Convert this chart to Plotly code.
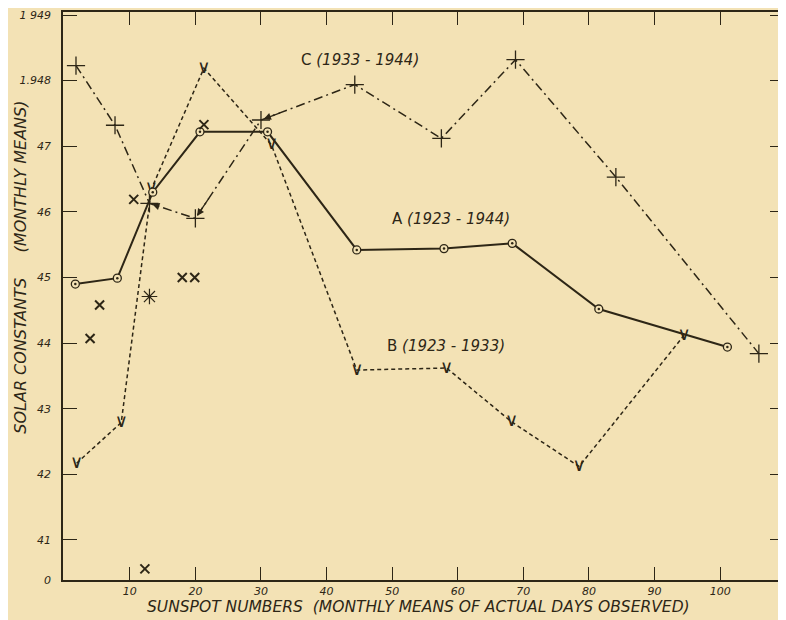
import plotly.graph_objects as go

# ---- data ----
a_x = [1.7, 8.1, 13.5, 20.7, 31.0, 44.6, 57.9, 68.3, 81.5, 101.1]
a_y = [44.90, 44.99, 46.30, 47.22, 47.22, 45.42, 45.44, 45.52, 44.52, 43.94]

b_x = [1.9, 8.7, 13.3, 21.3, 31.6, 44.6, 58.3, 68.2, 78.5, 94.5]
b_y = [42.17, 42.79, 46.35, 48.19, 47.02, 43.59, 43.62, 42.80, 42.12, 44.12]

c_x = [1.8, 7.75, 13.0, 20.0, 30.0, 44.3, 57.5, 68.8, 84.1, 105.9]
c_y = [48.23, 47.32, 46.13, 45.90, 47.40, 47.94, 47.12, 48.32, 46.53, 43.84]

x_pts_x = [5.4, 3.95, 10.6, 18.0, 19.9, 21.3, 12.3]
x_pts_y = [44.58, 44.07, 46.19, 45.00, 45.00, 47.33, 40.56]

sun_x = [13.0]
sun_y = [44.71]

x_ticks = [10, 20, 30, 40, 50, 60, 70, 80, 90, 100]
x_ticktext = ["10", "20", "30", "40", "50", "60", "70", "80", "90", "100"]
y_ticks = [40.39, 41, 42, 43, 44, 45, 46, 47, 48, 49]
y_ticktext = ["0", "41", "42", "43", "44", "45", "46", "47", "1.948", "1 949"]

# C points that carry an arrowhead pointing back from the following point
c_arrow_idx = [2, 3, 4]

BG = "#F3E2B5"
INK = "#2d2616"
FONT = "DejaVu Sans"

fig = go.Figure()

# C (1933-1944) dash-dot with crosses
fig.add_trace(go.Scatter(
    x=c_x, y=c_y, mode="lines+markers",
    line=dict(color=INK, width=1.5, dash="9px,4px,2px,4px"),
    marker=dict(symbol="cross-thin-open", size=13, color=INK,
                line=dict(color=INK, width=1.3)),
))

# B (1923-1933) dashed with V marks
fig.add_trace(go.Scatter(
    x=b_x, y=b_y, mode="lines+text",
    text=["\u2228"] * len(b_x), textposition="middle center",
    textfont=dict(family=FONT, size=18, color=INK),
    line=dict(color=INK, width=1.5, dash="4px,3px"),
))

# A (1923-1944) solid with dotted circles
fig.add_trace(go.Scatter(
    x=a_x, y=a_y, mode="lines+markers",
    line=dict(color=INK, width=2),
    marker=dict(symbol="circle", size=8, color=BG, line=dict(color=INK, width=1.3)),
))
fig.add_trace(go.Scatter(
    x=a_x, y=a_y, mode="markers",
    marker=dict(symbol="circle", size=2.5, color=INK),
))

# individual x points
fig.add_trace(go.Scatter(
    x=x_pts_x, y=x_pts_y, mode="markers",
    marker=dict(symbol="x-thin", size=9, color=INK, line=dict(color=INK, width=2)),
))

# sun symbol
fig.add_trace(go.Scatter(
    x=sun_x, y=sun_y, mode="markers",
    marker=dict(symbol="asterisk-open", size=13, color=INK,
                line=dict(color=INK, width=1.2)),
))
fig.add_trace(go.Scatter(
    x=sun_x, y=sun_y, mode="markers",
    marker=dict(symbol="circle", size=2.5, color=INK),
))

tickfont = dict(family=FONT, size=11, color=INK, style="italic")

annotations = [
    dict(text="SOLAR CONSTANTS&nbsp;&nbsp;&nbsp;&nbsp;&nbsp;(MONTHLY MEANS)",
         xref="paper", yref="paper",
         x=-0.0595, y=0.55, textangle=-90, showarrow=False,
         xanchor="center", yanchor="middle",
         font=dict(family=FONT, size=16, color=INK, style="italic")),
    dict(text="SUNSPOT NUMBERS&nbsp;&nbsp;(MONTHLY MEANS OF ACTUAL DAYS OBSERVED)",
         xref="paper", yref="paper", x=0.493, y=-0.0475, showarrow=False,
         xanchor="center", yanchor="middle",
         font=dict(family=FONT, size=15.5, color=INK, style="italic")),
    dict(text="C <i>(1933 - 1944)</i>", xref="x", yref="y", x=35.85, y=48.31,
         showarrow=False, xanchor="left", yanchor="middle",
         font=dict(family=FONT, size=15, color=INK)),
    dict(text="A <i>(1923 - 1944)</i>", xref="x", yref="y", x=49.7, y=45.89,
         showarrow=False, xanchor="left", yanchor="middle",
         font=dict(family=FONT, size=15, color=INK)),
    dict(text="B <i>(1923 - 1933)</i>", xref="x", yref="y", x=48.9, y=43.95,
         showarrow=False, xanchor="left", yanchor="middle",
         font=dict(family=FONT, size=15, color=INK)),
]

# small arrowheads on the C curve, pointing into a point from the next one
for i in c_arrow_idx:
    annotations.append(dict(
        x=c_x[i], y=c_y[i], xref="x", yref="y",
        ax=c_x[i] + 0.22 * (c_x[i + 1] - c_x[i]),
        ay=c_y[i] + 0.22 * (c_y[i + 1] - c_y[i]),
        axref="x", ayref="y", text="", showarrow=True,
        arrowhead=2, arrowsize=1.1, arrowwidth=1.3, arrowcolor=INK, standoff=3,
    ))

fig.update_layout(
    width=778, height=612,
    margin=dict(l=55, r=0, t=4, b=40),
    paper_bgcolor=BG, plot_bgcolor=BG,
    showlegend=False,
    xaxis=dict(
        range=[-0.18, 109.73], tickvals=x_ticks, ticktext=x_ticktext,
        ticks="inside", ticklen=13, tickwidth=1.3, tickcolor=INK,
        showline=True, linecolor=INK, linewidth=1.5, mirror="ticks",
        showgrid=False, zeroline=False, tickfont=tickfont,
    ),
    yaxis=dict(
        range=[40.39, 49.046], tickvals=y_ticks, ticktext=y_ticktext,
        ticks="inside", ticklen=14, tickwidth=1.3, tickcolor=INK,
        showline=True, linecolor=INK, linewidth=1.5, mirror="ticks",
        showgrid=False, zeroline=False, tickfont=tickfont,
        ticklabelstandoff=8,
    ),
    annotations=annotations,
)

fig.write_html("out.html")
